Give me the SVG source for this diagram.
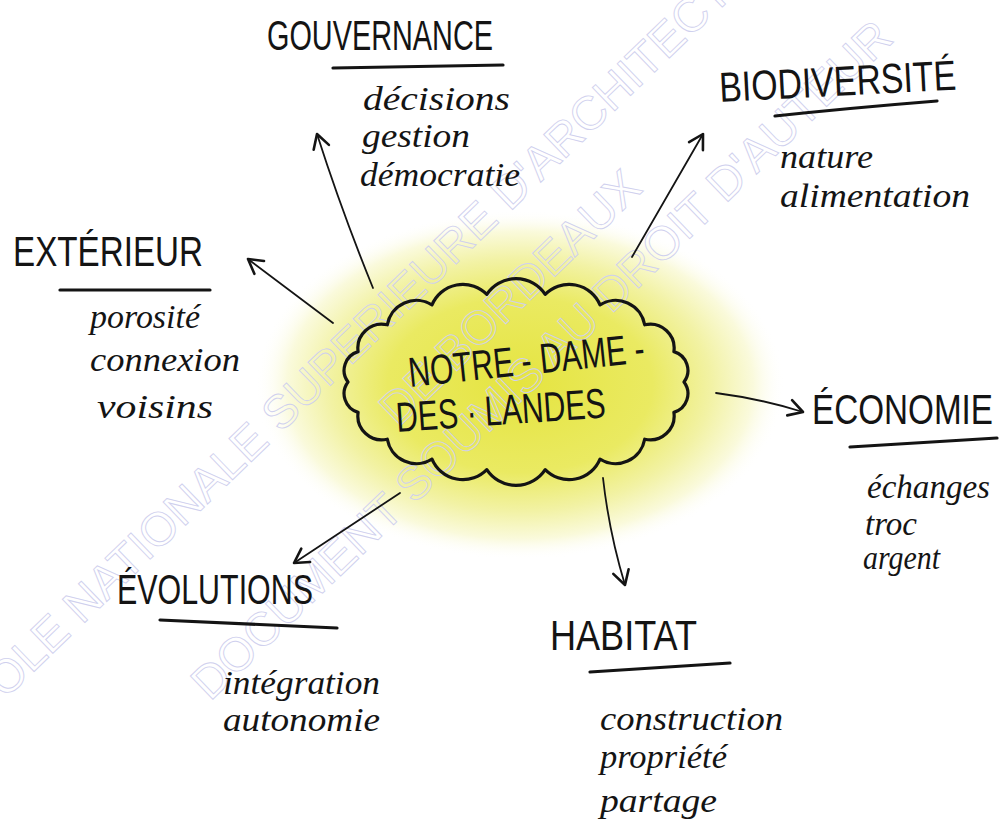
<svg xmlns="http://www.w3.org/2000/svg" width="1000" height="832" viewBox="0 0 1000 832">
<style>
.h{font-family:"Liberation Sans",Arial,sans-serif;font-size:42px;fill:#141414}
.s{font-family:"Liberation Serif","Times New Roman",serif;font-style:italic;font-size:34px;fill:#141414}
.c{font-family:"Liberation Sans",Arial,sans-serif;font-size:42px;fill:#141414}
.ul{fill:none;stroke:#141414;stroke-width:3.2;stroke-linecap:round}
.ar{fill:none;stroke:#141414;stroke-width:1.8;stroke-linecap:round;marker-end:url(#head)}
.wm{font-family:"Liberation Sans",Arial,sans-serif;font-size:47px;fill:none;stroke:#cfd0ee;stroke-width:0.9}
</style>
<defs>
<radialGradient id="glow" cx="0.5" cy="0.5" r="0.5">
<stop offset="0" stop-color="#e5e440"/>
<stop offset="0.5" stop-color="#eaea62"/>
<stop offset="0.72" stop-color="#f2f2a4"/>
<stop offset="0.88" stop-color="#fafadc"/>
<stop offset="1" stop-color="#ffffff" stop-opacity="0"/>
</radialGradient>
<marker id="head" markerUnits="userSpaceOnUse" markerWidth="1" markerHeight="1" refX="0" refY="0" orient="auto" overflow="visible">
<path d="M-14,-8 L0,0 L-14,8" fill="none" stroke="#141414" stroke-width="2.6" stroke-linecap="round" stroke-linejoin="round"/>
</marker>
</defs>
<rect width="1000" height="832" fill="#ffffff"/>
<ellipse cx="520" cy="385" rx="265" ry="175" fill="url(#glow)"/>

<g id="watermark">
<text class="wm" transform="translate(-42,745) rotate(-44)">ECOLE NATIONALE SUPERIEURE D'ARCHITECTURE</text>
<text class="wm" transform="translate(398,428) rotate(-44)">DE BORDEAUX</text>
<text class="wm" transform="translate(210,702) rotate(-44)">DOCUMENT SOUMIS AU DROIT D'AUTEUR</text>
</g>

<g id="connectors">
<path class="ar" d="M373,288 Q342,212 317,134"/>
<path class="ar" d="M632,257 L703,134"/>
<path class="ar" d="M333,323 L248,259"/>
<path class="ar" d="M716,393 Q762,399 803,412"/>
<path class="ar" d="M603,478 Q609,532 625,585"/>
<path class="ar" d="M400,493 L294,563"/>
</g>

<g id="node-center">
<path d="M684,382 A19.5,19.5 0 0 1 673.9,412.4 A24,24 0 0 1 644.7,439.2 A29.5,29.5 0 0 1 600,459.1 A33.5,33.5 0 0 1 545.2,469.6 A35,35 0 0 1 486.8,469.6 A33.5,33.5 0 0 1 432,459.1 A29.5,29.5 0 0 1 387.3,439.2 A24,24 0 0 1 358.1,412.4 A19.5,19.5 0 0 1 348,382 A19.5,19.5 0 0 1 358.1,351.6 A24,24 0 0 1 387.3,324.8 A29.5,29.5 0 0 1 432,304.9 A33.5,33.5 0 0 1 486.8,294.4 A35,35 0 0 1 545.2,294.4 A33.5,33.5 0 0 1 600,304.9 A29.5,29.5 0 0 1 644.7,324.8 A24,24 0 0 1 673.9,351.6 A19.5,19.5 0 0 1 684,382 Z" fill="none" stroke="#141414" stroke-width="3.2" stroke-linejoin="round"/>
<text class="c" x="410" y="387" textLength="237" lengthAdjust="spacingAndGlyphs" transform="rotate(-6 410 387)">NOTRE - DAME -</text>
<text class="c" x="397" y="432" textLength="210" lengthAdjust="spacingAndGlyphs" transform="rotate(-4 397 432)">DES · LANDES</text>
</g>

<g id="node-gouvernance">
<text class="h" x="267" y="50" textLength="226" lengthAdjust="spacingAndGlyphs">GOUVERNANCE</text>
<path class="ul" d="M333,68 L503,65"/>
<text class="s" x="363" y="110" textLength="147" lengthAdjust="spacingAndGlyphs">décisions</text>
<text class="s" x="362" y="147" textLength="108" lengthAdjust="spacingAndGlyphs">gestion</text>
<text class="s" x="360" y="186" textLength="160" lengthAdjust="spacingAndGlyphs">démocratie</text>
</g>

<g id="node-biodiversite">
<text class="h" x="720" y="102" font-size="40" textLength="237" lengthAdjust="spacingAndGlyphs" transform="rotate(-3 720 102)">BIODIVERSITÉ</text>
<path class="ul" d="M775,116 Q850,108 937,101"/>
<text class="s" x="780" y="168" textLength="93" lengthAdjust="spacingAndGlyphs">nature</text>
<text class="s" x="780" y="207" textLength="190" lengthAdjust="spacingAndGlyphs">alimentation</text>
</g>

<g id="node-exterieur">
<text class="h" x="13" y="266" textLength="190" lengthAdjust="spacingAndGlyphs">EXTÉRIEUR</text>
<path class="ul" d="M60,290 L210,290"/>
<text class="s" x="90" y="328" textLength="110" lengthAdjust="spacingAndGlyphs">porosité</text>
<text class="s" x="90" y="371" textLength="150" lengthAdjust="spacingAndGlyphs">connexion</text>
<text class="s" x="97" y="418" textLength="116" lengthAdjust="spacingAndGlyphs">voisins</text>
</g>

<g id="node-economie">
<text class="h" x="812" y="424" font-size="35" textLength="181" lengthAdjust="spacingAndGlyphs">ÉCONOMIE</text>
<path class="ul" d="M850,447 L997,438"/>
<text class="s" x="867" y="498" font-size="32" textLength="123" lengthAdjust="spacingAndGlyphs">échanges</text>
<text class="s" x="865" y="535" font-size="32" textLength="52" lengthAdjust="spacingAndGlyphs">troc</text>
<text class="s" x="863" y="569" font-size="32" textLength="77" lengthAdjust="spacingAndGlyphs">argent</text>
</g>

<g id="node-habitat">
<text class="h" x="550" y="650" textLength="147" lengthAdjust="spacingAndGlyphs">HABITAT</text>
<path class="ul" d="M590,672 L730,663"/>
<text class="s" x="600" y="730" textLength="183" lengthAdjust="spacingAndGlyphs">construction</text>
<text class="s" x="600" y="768" textLength="127" lengthAdjust="spacingAndGlyphs">propriété</text>
<text class="s" x="600" y="812" textLength="117" lengthAdjust="spacingAndGlyphs">partage</text>
</g>

<g id="node-evolutions">
<text class="h" x="117" y="604" font-size="36" textLength="196" lengthAdjust="spacingAndGlyphs">ÉVOLUTIONS</text>
<path class="ul" d="M160,620 L337,628"/>
<text class="s" x="223" y="694" textLength="157" lengthAdjust="spacingAndGlyphs">intégration</text>
<text class="s" x="223" y="731" textLength="157" lengthAdjust="spacingAndGlyphs">autonomie</text>
</g>
</svg>
